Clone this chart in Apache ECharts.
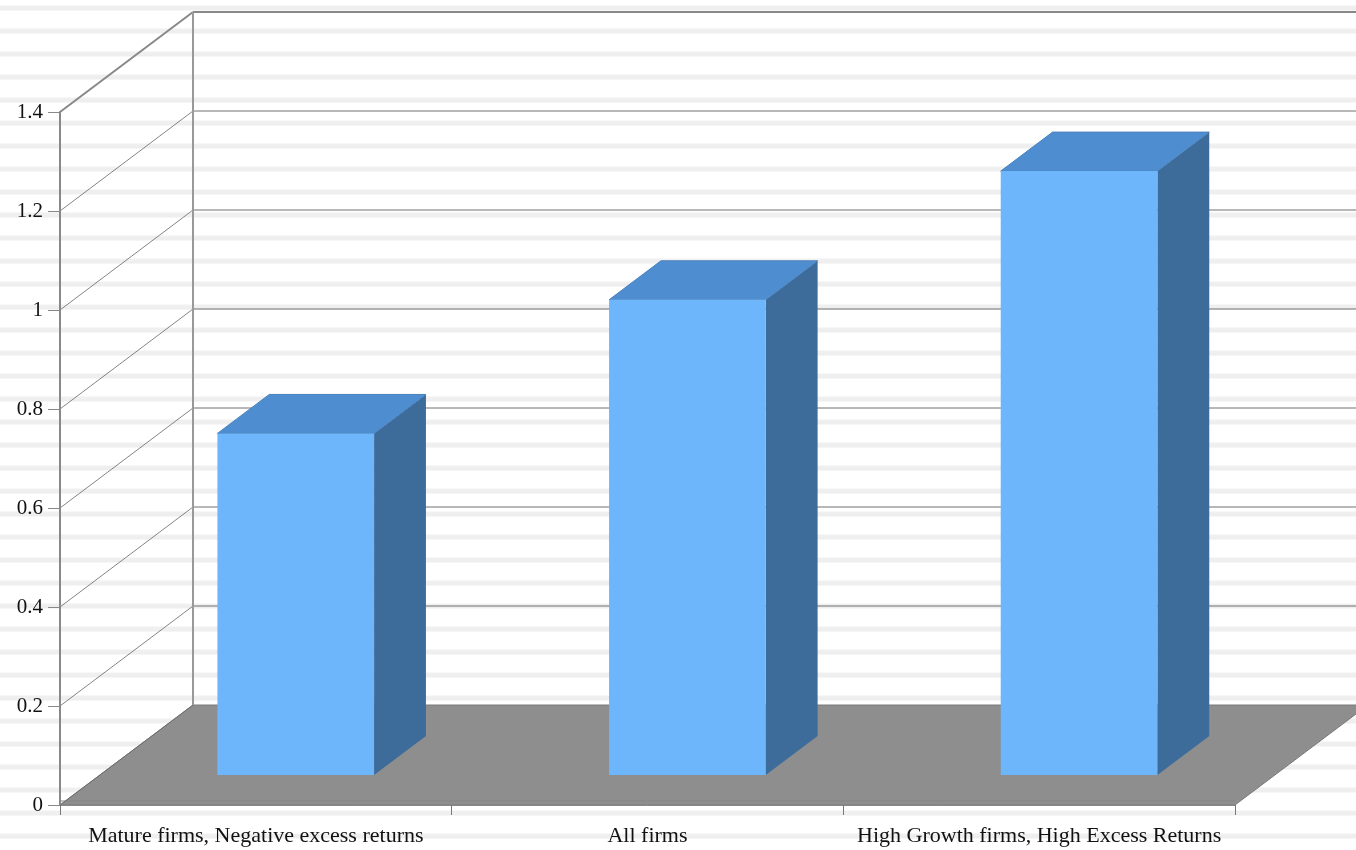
<!DOCTYPE html>
<html>
<head>
<meta charset="utf-8">
<script src="https://cdn.jsdelivr.net/npm/echarts@6/dist/echarts.min.js"></script>
<style>
html,body{margin:0;padding:0;}
body{
  width:1356px;height:850px;overflow:hidden;
  background: repeating-linear-gradient(to bottom,#ffffff 0px,#ffffff 5px,#f0f0f0 6px,#eeeeee 10px,#ffffff 11px,#ffffff 23px);
}
#chart{width:1356px;height:850px;}
</style>
</head>
<body>
<div id="chart"></div>
<script>
var categories = ['Mature firms, Negative excess returns', 'All firms', 'High Growth firms, High Excess Returns'];
var values = [0.69, 0.96, 1.22];
var yTicks = [0, 0.2, 0.4, 0.6, 0.8, 1, 1.2, 1.4];

// 3D projection of depth (full depth offset in pixels)
var DX = 133, DY = -100;
var BAR_D0 = 0.3, BAR_D1 = 0.69, BAR_W = 0.4;
var FONT = '"Liberation Serif", "Times New Roman", serif';

var chart = echarts.init(document.getElementById('chart'), null, {renderer: 'canvas'});

function wallItem(params, api) {
  var v = api.value(0);
  var p0 = api.coord([0, v]);
  var left = params.coordSys.x;
  var bx = left + DX, by = p0[1] + DY;
  var isTop = v === 1.4;
  var children = [];
  children.push({
    type: 'line',
    shape: {x1: left, y1: p0[1], x2: bx, y2: by},
    style: {stroke: isTop ? '#888888' : '#666666', lineWidth: isTop ? 2 : 0.8}
  });
  if (v > 0) {
    children.push({
      type: 'line',
      shape: {x1: bx, y1: by, x2: 1360, y2: by},
      style: {stroke: isTop ? '#888888' : '#707070', lineWidth: isTop ? 2 : 1}
    });
  }
  if (isTop) {
    var pz = api.coord([0, 0]);
    children.push({
      type: 'line',
      shape: {x1: bx, y1: by, x2: bx, y2: pz[1] + DY},
      style: {stroke: '#999999', lineWidth: 2}
    });
  }
  return {type: 'group', children: children};
}

function floorItem(params, api) {
  var cs = params.coordSys;
  var pz = api.coord([0, 0]);
  var l = cs.x, r = cs.x + cs.width, y = pz[1];
  return {
    type: 'group',
    children: [
      {type: 'polygon', shape: {points: [[l, y], [r, y], [r + DX, y + DY], [l + DX, y + DY]]},
       style: {fill: '#8e8e8e', stroke: '#7a7a7a', lineWidth: 1}},
      {type: 'line', shape: {x1: l, y1: y - 4, x2: r, y2: y - 4}, style: {stroke: '#858585', lineWidth: 1}}
    ]
  };
}

function barItem(params, api) {
  var idx = api.value(0);
  var v = api.value(1);
  var band = api.size([1, 0])[0];
  var c = api.coord([idx, 0]);
  var t = api.coord([idx, v]);
  var w = band * BAR_W;
  var ox = DX * BAR_D0, oy = DY * BAR_D0;
  var dx = DX * (BAR_D1 - BAR_D0), dy = DY * (BAR_D1 - BAR_D0);
  var x0 = c[0] - w / 2 + ox, x1 = x0 + w;
  var yb = c[1] + oy, yt = t[1] + oy;
  return {
    type: 'group',
    children: [
      {type: 'polygon', shape: {points: [[x1, yb], [x1 + dx, yb + dy], [x1 + dx, yt + dy], [x1, yt]]},
       style: {fill: '#3d6b9a'}},
      {type: 'polygon', shape: {points: [[x0, yt], [x1, yt], [x1 + dx, yt + dy], [x0 + dx, yt + dy]]},
       style: {fill: '#4f8dd1', stroke: '#4a82bd', lineWidth: 1}},
      {type: 'rect', shape: {x: x0, y: yt, width: w, height: yb - yt},
       style: {fill: '#6db6fc'}}
    ]
  };
}

var option = {
  animation: false,
  backgroundColor: 'transparent',
  grid: {left: 60, right: 121, top: 112, bottom: 45, containLabel: false},
  xAxis: {
    type: 'category',
    data: categories,
    boundaryGap: true,
    axisLine: {show: true, lineStyle: {color: '#888888', width: 1}},
    axisTick: {show: true, length: 10, lineStyle: {color: '#777777'}, alignWithLabel: false},
    axisLabel: {color: '#111111', fontFamily: FONT, fontSize: 22, margin: 20, interval: 0},
    splitLine: {show: false},
    z: 5
  },
  yAxis: {
    type: 'value',
    min: 0, max: 1.4, interval: 0.2,
    axisLine: {show: true, lineStyle: {color: '#888888', width: 2}},
    axisTick: {show: true, length: 12, lineStyle: {color: '#888888'}},
    axisLabel: {color: '#111111', fontFamily: FONT, fontSize: 21, margin: 17,
      formatter: function (v) { return String(Math.round(v * 10) / 10); }},
    splitLine: {show: false},
    z: 5
  },
  series: [
    {
      type: 'custom', name: 'floor', z: 1,
      renderItem: floorItem,
      data: [[0]],
      silent: true
    },
    {
      type: 'custom', name: 'walls', z: 2,
      renderItem: wallItem,
      data: yTicks.map(function (v) { return [v]; }),
      silent: true
    },
    {
      type: 'custom', name: 'bars', z: 3,
      renderItem: barItem,
      encode: {x: 0, y: 1},
      data: values.map(function (v, i) { return [i, v]; })
    }
  ]
};
chart.setOption(option);
</script>
</body>
</html>
